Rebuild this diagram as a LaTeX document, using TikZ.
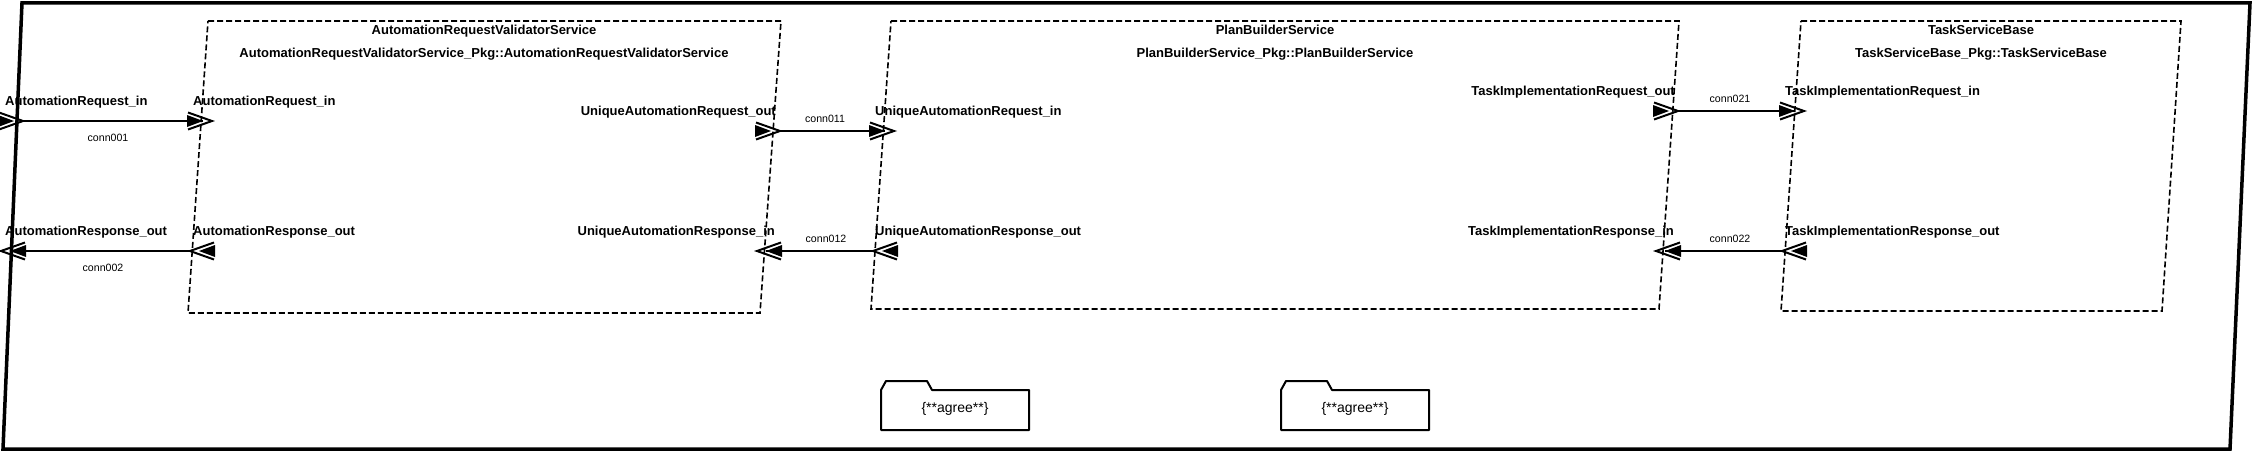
\documentclass[tikz,border=0pt]{standalone}
\usepackage{fontspec}
\setmainfont{Liberation Sans}
\tikzset{
  lbl/.style={font=\fontsize{13}{15}\selectfont\bfseries, inner sep=0pt},
  cl/.style={font=\fontsize{10.6}{12}\selectfont, inner sep=0pt},
  agreelbl/.style={font=\fontsize{14}{16}\selectfont, inner sep=0pt},
  frame/.style={line width=3.5pt, line join=miter},
  compbox/.style={line width=1.6pt, dash pattern=on 6pt off 3pt},
  conn/.style={line width=2.2pt},
  folder/.style={line width=2pt, line join=round},
  headR/.pic={\fill (-25,-6) -- (-9,0) -- (-25,6) -- cycle;
              \draw[line width=2pt] (-24,-8.5) -- (0,0) -- (-24,8.5);},
  headL/.pic={\fill (25,-6) -- (9,0) -- (25,6) -- cycle;
              \draw[line width=2pt] (24,-8.5) -- (0,0) -- (24,8.5);}
}
\begin{document}
\begin{tikzpicture}[x=1pt,y=-1pt]
\useasboundingbox (0,0) rectangle (2253,452);
\fill[white] (0,0) rectangle (2253,452);

% outer frame
\draw[frame] (22,3) -- (2250,3) -- (2230,449) -- (3,449) -- cycle;

% component boxes
\draw[compbox] (208,21) -- (781,21) -- (760,313) -- (188,313) -- cycle;
\draw[compbox] (891,21) -- (1679,21) -- (1659,309) -- (871,309) -- cycle;
\draw[compbox] (1801,21) -- (2181,21) -- (2162,311) -- (1781,311) -- cycle;

% titles
\node[lbl, anchor=base] (t1a) at (484,35) {AutomationRequestValidatorService};
\node[lbl, anchor=base] (t1b) at (484,57) {AutomationRequestValidatorService\_Pkg::AutomationRequestValidatorService};
\node[lbl, anchor=base] (t2a) at (1275,35) {PlanBuilderService};
\node[lbl, anchor=base] (t2b) at (1275,57) {PlanBuilderService\_Pkg::PlanBuilderService};
\node[lbl, anchor=base] (t3a) at (1981,35) {TaskServiceBase};
\node[lbl, anchor=base] (t3b) at (1981,57) {TaskServiceBase\_Pkg::TaskServiceBase};

% port labels
\node[lbl, anchor=base west] (o1) at (5,105) {AutomationRequest\_in};
\node[lbl, anchor=base west] (o2) at (5,235) {AutomationResponse\_out};
\node[lbl, anchor=base west] (a1) at (193,105) {AutomationRequest\_in};
\node[lbl, anchor=base west] (a2) at (193,235) {AutomationResponse\_out};
\node[lbl, anchor=base east] (a3) at (776,115) {UniqueAutomationRequest\_out};
\node[lbl, anchor=base east] (a4) at (775,235) {UniqueAutomationResponse\_in};
\node[lbl, anchor=base west] (b1) at (875,115) {UniqueAutomationRequest\_in};
\node[lbl, anchor=base west] (b2) at (875,235) {UniqueAutomationResponse\_out};
\node[lbl, anchor=base east] (b3) at (1675,95) {TaskImplementationRequest\_out};
\node[lbl, anchor=base east] (b4) at (1674,235) {TaskImplementationResponse\_in};
\node[lbl, anchor=base west] (c1) at (1785,95) {TaskImplementationRequest\_in};
\node[lbl, anchor=base west] (c2) at (1785,235) {TaskImplementationResponse\_out};

% port coordinates (arrow tips)
\coordinate (p1s) at (23,121);   \coordinate (p1t) at (212,121);
\coordinate (p2s) at (1,251);    \coordinate (p2t) at (190,251);
\coordinate (p3s) at (780,131);  \coordinate (p3t) at (894,131);
\coordinate (p4s) at (757,251);  \coordinate (p4t) at (873,251);
\coordinate (p5s) at (1678,111); \coordinate (p5t) at (1804,111);
\coordinate (p6s) at (1656,251); \coordinate (p6t) at (1782,251);

% connectors
\draw[conn, shorten >=9pt] (p1s) -- (p1t);
\draw[conn, shorten <=9pt] (p2s) -- (p2t);
\draw[conn, shorten >=9pt] (p3s) -- (p3t);
\draw[conn, shorten <=9pt] (p4s) -- (p4t);
\draw[conn, shorten >=9pt] (p5s) -- (p5t);
\draw[conn, shorten <=9pt] (p6s) -- (p6t);

\pic at (p1s) {headR}; \pic at (p1t) {headR};
\pic at (p2s) {headL}; \pic at (p2t) {headL};
\pic at (p3s) {headR}; \pic at (p3t) {headR};
\pic at (p4s) {headL}; \pic at (p4t) {headL};
\pic at (p5s) {headR}; \pic at (p5t) {headR};
\pic at (p6s) {headL}; \pic at (p6t) {headL};

% connector labels
\node[cl, anchor=base] (n1) at (108,141) {conn001};
\node[cl, anchor=base] (n2) at (103,271) {conn002};
\node[cl, anchor=base] (n3) at (825,122) {conn011};
\node[cl, anchor=base] (n4) at (826,242) {conn012};
\node[cl, anchor=base] (n5) at (1730,102) {conn021};
\node[cl, anchor=base] (n6) at (1730,242) {conn022};

% folders
\draw[folder] (881,430) -- (881,390) -- (886,381) -- (927,381) -- (932,390) -- (1029,390) -- (1029,430) -- cycle;
\draw[folder] (1281,430) -- (1281,390) -- (1286,381) -- (1327,381) -- (1332,390) -- (1429,390) -- (1429,430) -- cycle;
\node[agreelbl, anchor=base] (g1) at (955,412) {\{**agree**\}};
\node[agreelbl, anchor=base] (g2) at (1355,412) {\{**agree**\}};
\end{tikzpicture}
\end{document}
